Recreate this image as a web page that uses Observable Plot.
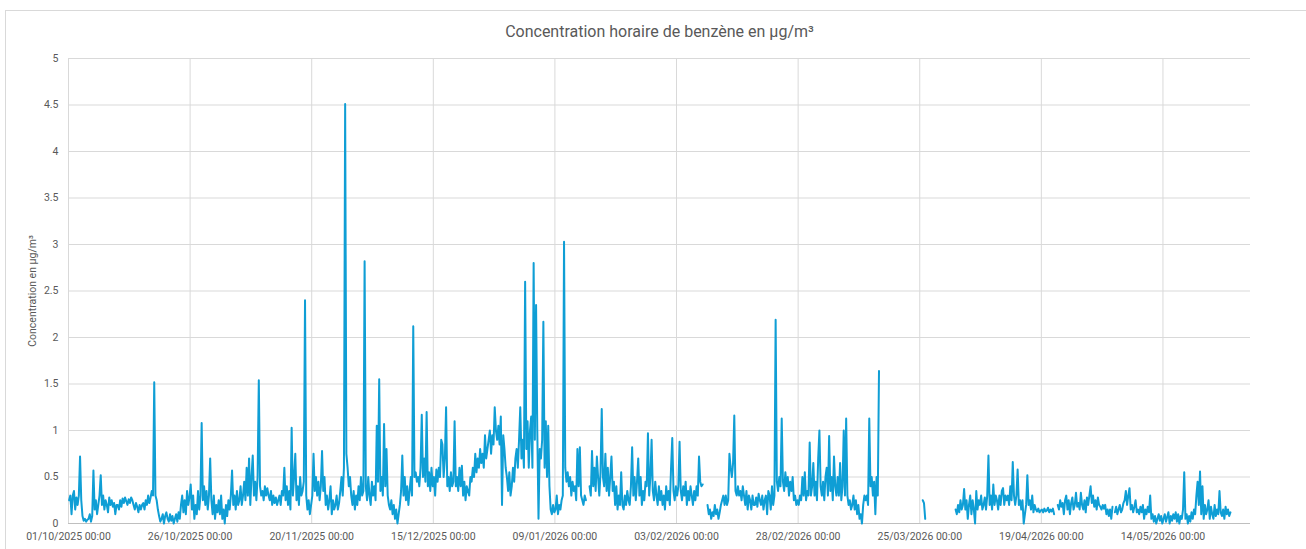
<!DOCTYPE html>
<html lang="fr">
<head>
<meta charset="utf-8">
<title>Concentration horaire de benzène</title>
<script src="https://cdn.jsdelivr.net/npm/d3@7"></script>
<script src="https://cdn.jsdelivr.net/npm/@observablehq/plot@0.6"></script>
<style>
  html, body { margin: 0; padding: 0; background: #fff; overflow: hidden; }
  #wrap { position: relative; width: 1306px; height: 549px; }
  #border { position: absolute; left: 5px; top: 10px; width: 1330px; height: 580px;
            border: 1px solid #d9d9d9; box-sizing: border-box; pointer-events: none; }
  #chart { position: absolute; left: 0; top: 0; }
</style>
</head>
<body>
<div id="wrap"><div id="chart"></div><div id="border"></div></div>
<script>
// Hourly benzene concentration (µg/m³), sampled every 6 hours from the 1st of each month.
// null marks periods without measurements.
const oct2025 = [
  0.25,0.3,0.1,0.3, 0.35,0.15,0.28,0.2, 0.3,0.72,0.25,0.08, 0.03,0.05,0.02,0.04, 0.05,0.1,0.02,0.08,
  0.57,0.15,0.25,0.1, 0.2,0.3,0.52,0.2, 0.3,0.15,0.25,0.2, 0.12,0.28,0.2,0.25, 0.18,0.22,0.1,0.2,
  0.2,0.15,0.25,0.18, 0.27,0.22,0.28,0.24, 0.2,0.26,0.22,0.28, 0.25,0.2,0.15,0.22, 0.18,0.12,0.2,0.15,
  0.2,0.22,0.15,0.25, 0.2,0.3,0.22,0.28, 0.35,0.3,1.52,0.3, 0.25,0.15,0.08,0.02, 0.05,0.1,0,0.08,
  0.12,0.05,0.02,0.1, 0.03,0.08,0,0.05, 0.1,0.02,0.12,0.05, 0.2,0.3,0.12,0.25, 0.1,0.35,0.2,0.28,
  0.42,0.15,0.3,0.05, 0.2,0.1,0.35,0.15, 0.3,1.08,0.25,0.4, 0.2,0.35,0.15,0.3, 0.7,0.25,0.1,0.3,
  0.05,0.2,0.12,0.25
];
const nov2025 = [
  0.1,0.3,0.05,0.15, 0,0.2,0.08,0.25, 0.15,0.3,0.57,0.2, 0.3,0.15,0.35,0.2, 0.25,0.4,0.2,0.3,
  0.45,0.25,0.6,0.3, 0.7,0.2,0.5,0.73, 0.3,0.45,0.25,0.5, 1.54,0.4,0.3,0.35, 0.25,0.4,0.3,0.38,
  0.3,0.25,0.35,0.2, 0.3,0.22,0.28,0.2, 0.25,0.3,0.2,0.35, 0.3,0.6,0.25,0.4, 0.2,0.35,0.15,1.03,
  0.3,0.5,0.75,0.25, 0.4,0.2,0.5,0.3, 0.35,0.45,2.4,0.3, 0.15,0.25,0.1,0.2, 0.3,0.75,0.35,0.5,
  0.3,0.45,0.25,0.4, 0.78,0.35,0.5,0.2, 0.3,0.15,0.25,0.4, 0.1,0.25,0.15,0.2, 0.3,0.15,0.22,0.35,
  0.5,0.3,0.6,4.51, 0.75,0.6,0.4,0.5, 0.3,0.2,0.35,0.15, 0.3,0.2,0.4,0.25, 0.5,0.3,0.35,2.82
];
const dec2025 = [
  0.4,0.25,0.5,0.3, 0.2,0.45,0.3,0.4, 0.25,1.05,0.45,1.55, 0.35,0.5,0.3,1.07, 0.4,0.8,0.3,0.2,
  0.15,0.25,0.1,0.2, 0.05,0.15,0,0.1, 0.2,0.35,0.73,0.3, 0.5,0.25,0.4,0.2, 0.35,0.5,0.3,2.12,
  0.5,0.55,0.45,0.5, 0.4,0.6,1.17,0.5, 0.7,0.45,1.2,0.4, 0.55,0.35,0.6,0.4, 0.5,0.3,0.58,0.45,
  0.6,0.5,0.9,0.85, 0.5,0.7,1.25,0.4, 0.5,0.35,0.55,0.4, 0.45,1.1,0.4,0.5, 0.35,0.6,0.4,0.62,
  0.3,0.45,0.25,0.4, 0.35,0.3,0.5,0.45, 0.6,0.5,0.75,0.55, 0.7,0.6,0.8,0.65, 0.75,0.6,0.95,0.7,
  0.8,0.9,1.0,0.75, 0.95,0.85,1.25,1.0, 0.9,1.05,0.85,1.15, 0.2,0.95,0.8,0.6, 0.5,0.35,0.55,0.3,
  0.4,0.6,0.45,0.7
];
const jan2026 = [
  0.8,0.6,0.9,1.25, 0.7,0.9,0.6,2.6, 0.8,1.1,0.6,1.0, 1.15,0.6,2.8,0.9, 2.35,1.0,0.05,0.8,
  0.7,0.9,2.17,0.6, 1.1,0.5,1.05,0.4, 0.15,0.1,0.2,0.12, 0.15,0.3,0.1,0.2, 0.15,0.25,0.3,3.03,
  0.6,0.45,0.55,0.4, 0.5,0.3,0.45,0.35, 0.4,0.25,0.8,0.4, 0.82,0.3,0.25,0.2, 0.3,0.25,null,null,
  0.4,0.3,0.78,0.4, 0.6,0.35,0.72,0.5, 0.3,0.55,1.23,0.5, 0.4,0.75,0.35,0.6, 0.3,0.5,0.72,0.35,
  0.45,0.2,0.4,0.15, 0.3,0.2,0.55,0.2, 0.15,0.3,0.2,0.35, 0.25,0.2,0.4,0.82, 0.3,0.5,0.25,0.45,
  0.7,0.3,0.5,0.2, 0.35,0.25,0.45,0.4, 0.97,0.3,0.5,0.9, 0.35,0.25,0.45,0.3, 0.2,0.4,0.25,0.35,
  0.2,0.3,0.15,0.4
];
const feb2026 = [
  0.25,0.35,0.2,0.6, 0.92,0.35,0.25,0.4, 0.3,0.4,0.88,0.35, 0.25,0.4,0.3,0.45, 0.2,0.35,0.25,0.4,
  0.3,0.2,0.35,0.25, 0.4,0.3,0.72,0.45, 0.4,0.42,null,null, null,0.2,0.1,0.15, 0.05,0.12,0.08,0.2,
  0.1,0.15,0.05,0.12, 0.2,0.25,0.3,0.2, 0.3,0.2,0.25,0.75, 0.6,0.5,0.65,1.16, 0.35,0.3,0.4,0.3,
  0.35,0.25,0.4,0.3, 0.2,0.35,0.15,0.3, 0.25,0.15,0.3,0.2, 0.2,0.28,0.18,0.32, 0.25,0.2,0.3,0.15,
  0.25,0.3,0.1,0.35, 0.3,0.15,0.4,0.2, 0.3,2.19,0.45,0.35, 0.5,0.4,1.13,0.45, 0.35,0.55,0.4,0.5,
  0.3,0.45,0.35,0.5, 0.25,0.3,0.2,0.25, 0.2,0.3,0.25,0.5
];
const mar2026 = [
  0.3,0.55,0.25,0.35, 0.3,0.87,0.3,0.4, 0.65,0.3,0.45,0.25, 0.7,1.0,0.4,0.3, 0.45,0.25,0.5,0.6,
  0.3,0.94,0.35,0.5, 0.25,0.72,0.4,0.3, 0.5,0.3,0.65,0.25, 0.4,1.0,0.3,1.13, 0.3,0.2,0.25,0.15,
  0.2,0.3,0.15,0.25, 0.1,0.2,0.05,0.1, 0,0.2,0.3,0.25, 0.3,0.2,1.13,0.4, 0.5,0.3,0.45,0.1,
  0.5,0.3,1.64,null, null,null,null,null, null,null,null,null, null,null,null,null, null,null,null,null,
  null,null,null,null, null,null,null,null, null,null,null,null, null,null,null,null, null,null,0.25,0.22,
  0.05,null,null,null, null,null,null,null, null,null,null,null, null,null,null,null, null,null,null,null,
  null,null,null,null
];
const apr2026 = [
  null,0.15,0.1,0.2, 0.12,0.25,0.15,0.2, 0.37,0.15,0.25,0.05, 0.2,0.3,0.1,0.25, 0.15,0,0.35,0.15,
  0.25,0.2,0.3,0.15, 0.2,0.28,0.15,0.3, 0.73,0.2,0.3,0.15, 0.42,0.2,0.3,0.25, 0.15,0.3,0.2,0.35,
  0.38,0.2,0.3,0.25, 0.3,0.2,0.4,0.25, 0.66,0.3,0.2,0.3, 0.58,0.2,0.25,0.15, 0.25,0,0.1,0.2,
  0.52,0.2,0.25,0.15, 0.3,0.12,0.2,0.15, 0.13,0.16,0.12,0.14, 0.15,0.12,0.16,0.13, 0.14,0.17,0.12,0.15,
  0.13,0.16,0.1,null, null,0.2,0.15,0.25, 0.18,0.22,0.1,0.25, 0.3,0.15,0.25,0.1, 0.22,0.28,0.15,0.2,
  0.33,0.18,0.22,0.15, 0.33,0.2,0.15,0.25, 0.12,0.28,0.2,0.3, 0.4,0.22,0.3,0.18, 0.25,0.15,0.28,0.2
];
const may2026 = [
  0.18,0.15,0.2,0.16, 0.2,0.1,0.15,0.08, 0.15,0.05,0.18,null, 0.12,0.18,0.1,0.15, 0.2,0.12,0.15,0.22,
  0.25,0.35,0.2,0.3, 0.38,0.15,0.2,0.12, 0.18,0.25,0.12,0.15, 0.1,0.18,0.12,0.2, 0.05,0.15,0.1,0.18,
  0.12,0.3,0.05,0.1, 0.02,0.08,0,0.05, 0.1,0.03,0.08,0, 0.05,0.1,0.02,0.07, 0.12,0,0.08,0.03,
  0.1,0.05,0.12,0.02, 0.1,0,0.08,0.05, 0.15,0.55,0.05,0.1, 0,0.08,0.02,0.12, 0.05,0.15,0.1,0.3,
  0.45,0.2,0.56,0.1, 0.4,0.05,0.2,0.1, 0.15,0.25,0.05,0.18, 0.1,0.05,0.2,0.08, 0.15,0.1,0.35,0.12,
  0.08,0.15,0.05,0.18, 0.1,0.15,0.08,0.12
];

const months = [
  ["2025-10-01", oct2025], ["2025-11-01", nov2025], ["2025-12-01", dec2025],
  ["2026-01-01", jan2026], ["2026-02-01", feb2026], ["2026-03-01", mar2026],
  ["2026-04-01", apr2026], ["2026-05-01", may2026]
];

// Axis ticks: one date every 25 days, and 0 to 5 by 0.5 µg/m³
const xTickDates = ["2025-10-01", "2025-10-26", "2025-11-20", "2025-12-15", "2026-01-09",
                    "2026-02-03", "2026-02-28", "2026-03-25", "2026-04-19", "2026-05-14"];
const yTicks = [0, 0.5, 1, 1.5, 2, 2.5, 3, 3.5, 4, 4.5, 5];
const xDomain = ["2025-10-01", "2026-06-01"];

const titleText = "Concentration horaire de benzène en µg/m³";
const yLabelText = "Concentration en µg/m³";

const STEP = 6 * 3600 * 1000;
const series = months.flatMap(([start, values]) => {
  const t0 = new Date(start + "T03:00:00Z").getTime();
  return values.map((v, i) => ({date: new Date(t0 + i * STEP), value: v}));
});
const toDate = s => new Date(s + "T00:00:00Z");

const grey = "#595959";
const chart = Plot.plot({
  width: 1306,
  height: 549,
  marginLeft: 68,
  marginRight: 56,
  marginTop: 58,
  marginBottom: 26,
  style: {fontFamily: "Roboto, 'Liberation Sans', sans-serif", fontSize: "10.5px", color: grey, background: "transparent"},
  x: {type: "utc", domain: xDomain.map(toDate)},
  y: {domain: [0, 5]},
  marks: [
    Plot.gridY(yTicks, {stroke: "#d9d9d9", strokeOpacity: 1, strokeWidth: 1}),
    Plot.gridX(xTickDates.map(toDate), {stroke: "#d9d9d9", strokeOpacity: 1, strokeWidth: 1}),
    Plot.ruleY([0], {stroke: "#bfbfbf", strokeWidth: 1}),
    Plot.axisY(yTicks, {tickSize: 0, tickPadding: 10, tickFormat: d => String(d), label: null, fill: grey}),
    Plot.axisX(xTickDates.map(toDate), {tickSize: 0, tickPadding: 9, tickFormat: d3.utcFormat("%d/%m/%Y %H:%M"), label: null, fill: grey}),
    Plot.line(series, {x: "date", y: "value", stroke: "#0F9ED5", strokeWidth: 2, strokeLinejoin: "round", curve: "linear"}),
    Plot.text([titleText], {frameAnchor: "top", dy: -27, lineAnchor: "middle", textAnchor: "middle", fontSize: 16, fill: grey}),
    Plot.text([yLabelText], {frameAnchor: "left", dx: -36, rotate: -90, lineAnchor: "middle", textAnchor: "middle", fontSize: 10.5, fill: grey})
  ]
});
document.getElementById("chart").appendChild(chart);
</script>
</body>
</html>
